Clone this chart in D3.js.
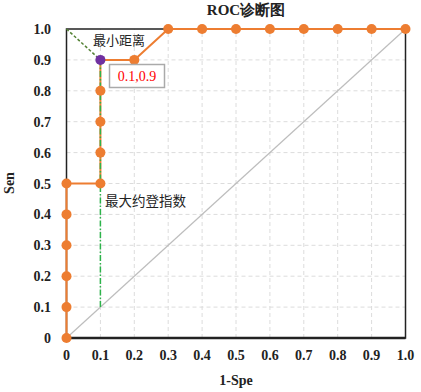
<!DOCTYPE html>
<html>
<head>
<meta charset="utf-8">
<script src="https://cdn.jsdelivr.net/npm/d3@7"></script>
<style>
  body { margin: 0; background: #fff; }
  text { font-family: "Liberation Serif", "Times New Roman", serif; }
  .cjk { font-family: "Noto Sans CJK SC", sans-serif; }
</style>
</head>
<body>
<div id="chart"></div>
<script>
var orange = '#ED7D31'
var purple = '#7030A0'

// ROC points
var fpr = [0, 0, 0, 0, 0, 0, 0.1, 0.1, 0.1, 0.1, 0.1, 0.2, 0.3, 0.4, 0.5, 0.6, 0.7, 0.8, 0.9, 1.0]
var tpr = [0, 0.1, 0.2, 0.3, 0.4, 0.5, 0.5, 0.6, 0.7, 0.8, 0.9, 0.9, 1.0, 1.0, 1.0, 1.0, 1.0, 1.0, 1.0, 1.0]
var bestPoint = [0.1, 0.9]
var youdenFrom = [0.1, 0.1]
var xTicks = [0, 0.1, 0.2, 0.3, 0.4, 0.5, 0.6, 0.7, 0.8, 0.9, 1.0]
var xTickLabels = ['0', '0.1', '0.2', '0.3', '0.4', '0.5', '0.6', '0.7', '0.8', '0.9', '1.0']
var yTicks = [0, 0.1, 0.2, 0.3, 0.4, 0.5, 0.6, 0.7, 0.8, 0.9, 1.0]
var yTickLabels = ['0', '0.1', '0.2', '0.3', '0.4', '0.5', '0.6', '0.7', '0.8', '0.9', '1.0']

var data = fpr.map(function(d, i) { return { x: d, y: tpr[i] } })

var svg = d3.select("#chart")
  .append("svg")
  .attr("width", 421)
  .attr("height", 392)

var x = d3.scaleLinear().domain([0, 1]).range([66.5, 405.5])
var y = d3.scaleLinear().domain([0, 1]).range([338, 29])

// grid
svg.append("g").selectAll("line")
  .data(xTicks.slice(1, -1))
  .enter().append("line")
  .attr("x1", function(d) { return x(d) }).attr("x2", function(d) { return x(d) })
  .attr("y1", y(0)).attr("y2", y(1))
  .attr("stroke", "#dcdcdc").attr("stroke-dasharray", "4,3")
svg.append("g").selectAll("line")
  .data(yTicks.slice(1, -1))
  .enter().append("line")
  .attr("y1", function(d) { return y(d) }).attr("y2", function(d) { return y(d) })
  .attr("x1", x(0)).attr("x2", x(1))
  .attr("stroke", "#dcdcdc").attr("stroke-dasharray", "4,3")

// frame
svg.append("rect")
  .attr("x", x(0)).attr("y", y(1))
  .attr("width", x(1) - x(0)).attr("height", y(0) - y(1))
  .attr("fill", "none").attr("stroke", "#222").attr("stroke-width", 1.5)
svg.append("line")
  .attr("x1", x(0)).attr("x2", x(1)).attr("y1", y(0)).attr("y2", y(0))
  .attr("stroke", "#222").attr("stroke-width", 2.5)

// reference diagonal
svg.append("line")
  .attr("x1", x(0)).attr("y1", y(0)).attr("x2", x(1)).attr("y2", y(1))
  .attr("stroke", "#bdbdbd").attr("stroke-width", 1.2)

// min distance line
svg.append("line")
  .attr("x1", x(0)).attr("y1", y(1)).attr("x2", x(bestPoint[0])).attr("y2", y(bestPoint[1]))
  .attr("stroke", "#548235").attr("stroke-width", 1.5).attr("stroke-dasharray", "3,2")

// ROC curve
var line = d3.line().x(function(d) { return x(d.x) }).y(function(d) { return y(d.y) })
svg.append("path")
  .datum(data)
  .attr("d", line)
  .attr("fill", "none").attr("stroke", orange).attr("stroke-width", 2)

// youden line
svg.append("line")
  .attr("x1", x(youdenFrom[0])).attr("y1", y(youdenFrom[1]))
  .attr("x2", x(bestPoint[0])).attr("y2", y(bestPoint[1]))
  .attr("stroke", "#2db34a").attr("stroke-width", 1.5).attr("stroke-dasharray", "6,2,1.5,2")

svg.append("g").selectAll("circle")
  .data(data)
  .enter().append("circle")
  .attr("cx", function(d) { return x(d.x) })
  .attr("cy", function(d) { return y(d.y) })
  .attr("r", 5)
  .attr("fill", function(d) { return (d.x == bestPoint[0] && d.y == bestPoint[1]) ? purple : orange })

// axis tick labels
svg.append("g").selectAll("text")
  .data(xTicks)
  .enter().append("text")
  .attr("x", function(d) { return x(d) })
  .attr("y", 360)
  .attr("text-anchor", "middle")
  .attr("font-size", 14).attr("font-weight", "bold").attr("fill", "#222")
  .text(function(d, i) { return xTickLabels[i] })
svg.append("g").selectAll("text")
  .data(yTicks)
  .enter().append("text")
  .attr("x", 51)
  .attr("y", function(d) { return y(d) + 5 })
  .attr("text-anchor", "end")
  .attr("font-size", 14).attr("font-weight", "bold").attr("fill", "#222")
  .text(function(d, i) { return yTickLabels[i] })

// titles
svg.append("text").attr("x", 246).attr("y", 15).attr("text-anchor", "middle")
  .attr("font-size", 15).attr("font-weight", "bold").attr("fill", "#222")
  .text("ROC诊断图")
svg.append("text").attr("x", 236).attr("y", 385).attr("text-anchor", "middle")
  .attr("font-size", 14).attr("font-weight", "bold").attr("fill", "#222")
  .text("1-Spe")
svg.append("text")
  .attr("transform", "translate(14,183) rotate(-90)")
  .attr("text-anchor", "middle")
  .attr("font-size", 14).attr("font-weight", "bold").attr("fill", "#222")
  .text("Sen")

// annotations
svg.append("text").attr("class", "cjk").attr("x", 93).attr("y", 45)
  .attr("font-size", 13).attr("fill", "#222").text("最小距离")
svg.append("rect")
  .attr("x", 109.5).attr("y", 64.5).attr("width", 55).attr("height", 23)
  .attr("fill", "#fff").attr("stroke", "#aaa").attr("stroke-width", 1.5)
svg.append("text").attr("x", 137).attr("y", 81).attr("text-anchor", "middle")
  .attr("font-size", 14).attr("fill", "#ff0000")
  .text(bestPoint[0] + "," + bestPoint[1])
svg.append("text").attr("class", "cjk").attr("x", 105).attr("y", 206)
  .attr("font-size", 13.5).attr("fill", "#222").text("最大约登指数")
</script>
</body>
</html>
